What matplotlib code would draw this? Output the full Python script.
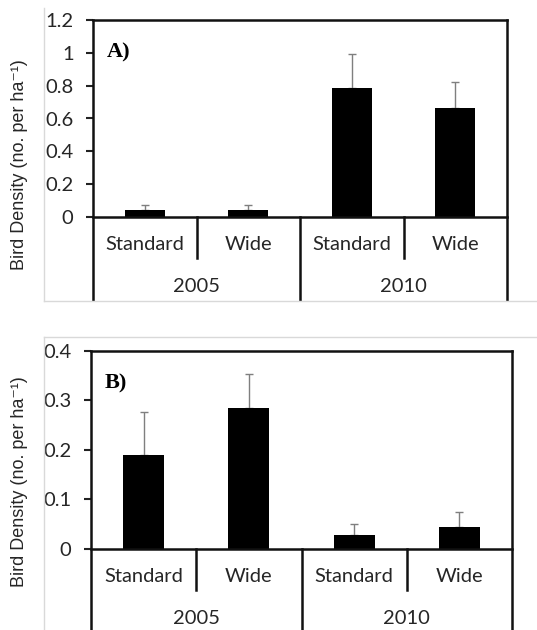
import matplotlib
matplotlib.use("Agg")
import matplotlib.pyplot as plt
from matplotlib.lines import Line2D
from matplotlib.transforms import blended_transform_factory

# ---- data ----
subgroups = ["Standard", "Wide", "Standard", "Wide"]
years = ["2005", "2010"]
density_a = [0.04, 0.04, 0.785, 0.662]
err_a = [0.036, 0.036, 0.207, 0.160]
density_b = [0.19, 0.285, 0.028, 0.043]
err_b = [0.087, 0.067, 0.022, 0.032]
yticks_a = [0, 0.2, 0.4, 0.6, 0.8, 1.0, 1.2]
yticks_b = [0, 0.1, 0.2, 0.3, 0.4]
ytick_labels_a = ["0", "0.2", "0.4", "0.6", "0.8", "1", "1.2"]
ytick_labels_b = ["0", "0.1", "0.2", "0.3", "0.4"]
panel_labels = ["A)", "B)"]
ylabel = "Bird Density (no. per ha\u207b\u00b9)"

W, H = 537, 630
fig = plt.figure(figsize=(W / 100, H / 100), dpi=100)
fig.patch.set_facecolor("white")

TICKFONT = "Lato"
LBLFONT = ["Liberation Sans", "DejaVu Sans"]
TXT = "#262626"


def px_axes(left, right, top, bottom):
    return fig.add_axes([left / W, 1 - bottom / H, (right - left) / W, (bottom - top) / H])


def draw_panel(ax, vals, errs, yticks, ylabels, ymax, plabel):
    x = list(range(len(vals)))
    ax.bar(x, vals, width=0.39, color="black", zorder=2)
    ax.errorbar(x, vals, yerr=[[0] * len(errs), errs], fmt="none",
                ecolor="#7f7f7f", elinewidth=1.0, capsize=3, capthick=1.0, zorder=1)
    ax.set_xlim(-0.5, len(vals) - 0.5)
    ax.set_ylim(0, ymax)
    ax.set_yticks(yticks)
    ax.set_yticklabels(ylabels, fontfamily=TICKFONT, fontsize=14.5, color=TXT)
    ax.set_xticks([])
    ax.tick_params(axis="y", direction="out", length=5, width=1.5, pad=9, color="#222222")
    for s in ["left", "right"]:
        ax.spines[s].set_visible(False)
    for s in ["top", "bottom"]:
        ax.spines[s].set_linewidth(1.8)
        ax.spines[s].set_color("#111111")
    lw = 1.8
    ybot = -0.421
    tr = ax.transAxes
    for xa in [0, 1]:
        ax.add_line(Line2D([xa, xa], [ybot, 1], transform=tr, color="#111111",
                           lw=lw, clip_on=False))
    ax.add_line(Line2D([0.5, 0.5], [ybot, 0], transform=tr, color="#111111",
                       lw=lw, clip_on=False))
    for xa in [0.25, 0.75]:
        ax.add_line(Line2D([xa, xa], [-0.208, 0], transform=tr, color="#111111",
                           lw=lw, clip_on=False))
    bt = blended_transform_factory(ax.transData, ax.transAxes)
    for i, name in enumerate(subgroups):
        ax.text(i, -0.142, name, transform=bt, ha="center", va="center",
                fontfamily=TICKFONT, fontsize=14.5, color=TXT)
    for j, yr in enumerate(years):
        ax.text(0.5 + 2 * j, -0.355, yr, transform=bt, ha="center", va="center",
                fontfamily=TICKFONT, fontsize=14.5, color=TXT)
    ax.text(0.033, 0.835, plabel, transform=tr, ha="left", va="center",
            fontfamily="Liberation Serif", fontweight="bold", fontsize=16)


axA = px_axes(93, 507, 20, 217)
draw_panel(axA, density_a, err_a, yticks_a, ytick_labels_a, 1.2, panel_labels[0])
axB = px_axes(91, 512, 350.7, 548.7)
draw_panel(axB, density_b, err_b, yticks_b, ytick_labels_b, 0.4, panel_labels[1])

# y labels
fig.text(20 / W, 1 - 165 / H, ylabel, rotation=90, ha="center", va="center",
         fontfamily=LBLFONT, fontsize=13, color=TXT)
fig.text(20 / W, 1 - 482 / H, ylabel, rotation=90, ha="center", va="center",
         fontfamily=LBLFONT, fontsize=13, color=TXT)

# light grey chart-area frames
fc = "#d9d9d9"
fig.add_artist(Line2D([44 / W, 44 / W], [1 - 8 / H, 1 - 301 / H], transform=fig.transFigure, color=fc, lw=1))
fig.add_artist(Line2D([44 / W, 1], [1 - 301 / H, 1 - 301 / H], transform=fig.transFigure, color=fc, lw=1))
fig.add_artist(Line2D([44 / W, 44 / W], [1 - 337 / H, 0], transform=fig.transFigure, color=fc, lw=1))
fig.add_artist(Line2D([44 / W, 1], [1 - 337 / H, 1 - 337 / H], transform=fig.transFigure, color=fc, lw=1))

fig.savefig("out.png", dpi=100)
